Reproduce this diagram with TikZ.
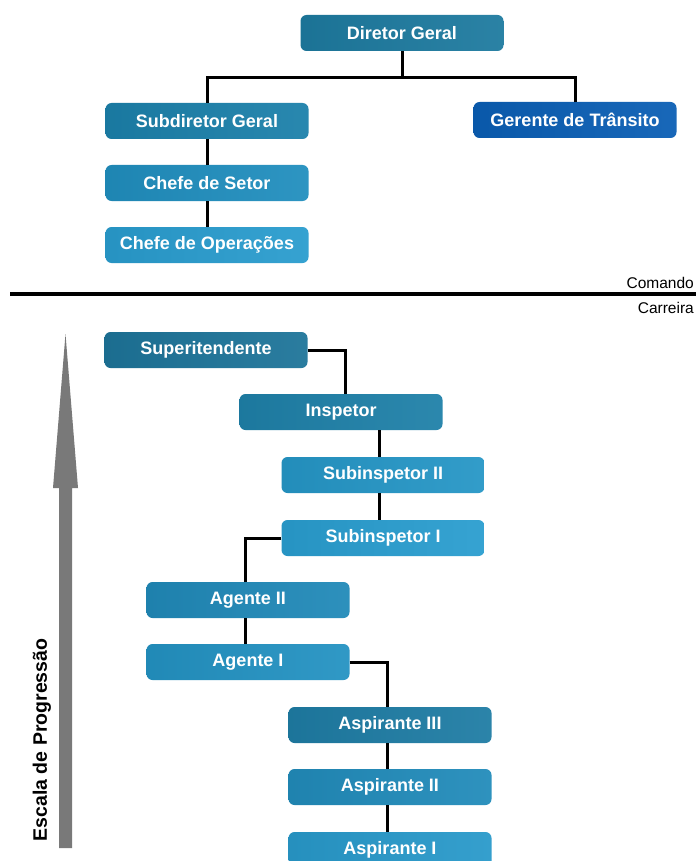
\documentclass[tikz,border=0pt]{standalone}
\usepackage{fontspec}
\setmainfont{Liberation Sans}
\begin{document}
\begin{tikzpicture}[x=1pt,y=-1pt,
  box/.style={rounded corners=6pt, minimum width=203pt, minimum height=36pt,
    inner sep=0pt, text=white, font=\fontsize{18}{20}\selectfont\bfseries},
  c1/.style={left color=#1!94!black, right color=#1!94!white},
  link/.style={line width=3pt, black},
]
\useasboundingbox (0,0) rectangle (696,861);
\fill[white] (0,0) rectangle (696,861);
\definecolor{cA}{HTML}{1D7A9F}
\definecolor{cB}{HTML}{1B80AA}
\definecolor{cC}{HTML}{208EBE}
\definecolor{cD}{HTML}{299CCE}
\definecolor{cG}{HTML}{0A5EB4}
\definecolor{cE}{HTML}{1D7499}
\definecolor{cF}{HTML}{1E80A8}
\definecolor{cH}{HTML}{2596C6}
\definecolor{cI}{HTML}{299DCF}
\definecolor{cJ}{HTML}{2089B8}
\definecolor{cK}{HTML}{2392C2}
\definecolor{cL}{HTML}{1E7CA4}
\definecolor{cM}{HTML}{218BBA}
\definecolor{cN}{HTML}{2899CA}

% command section
\node[box, c1=cA] (dg) at (402,33) {Diretor Geral};
\node[box, c1=cB] (sg) at (207,121) {Subdiretor Geral};
\node[box, c1=cG] (gt) at (575,120) {Gerente de Trânsito};
\node[box, c1=cC] (cs) at (207,183) {Chefe de Setor};
\node[box, c1=cD] (co) at (207,245) {Chefe de Operações};

\coordinate (j) at (402,78);
\draw[link] (dg.south) -- (j);
\draw[link] (sg.north) |- (j) -| (gt.north);
\draw[link] (sg) -- (cs);
\draw[link] (cs) -- (co);

% divider
\coordinate (l1) at (10,294);
\coordinate (l2) at (696,294);
\draw[line width=3.2pt] (l1) -- (l2);
\node[anchor=base east, font=\fontsize{15.5}{17}\selectfont, inner sep=0pt] (cmd) at (694,288) {Comando};
\node[anchor=base east, font=\fontsize{15.5}{17}\selectfont, inner sep=0pt] (car) at (694,313) {Carreira};

% career section
\node[box, c1=cE] (su) at (206,350) {Superitendente};
\node[box, c1=cF] (in) at (341,412) {Inspetor};
\node[box, c1=cH] (s2) at (383,475) {Subinspetor II};
\node[box, c1=cI] (s1) at (383,538) {Subinspetor I};
\node[box, c1=cJ] (a2) at (248,600) {Agente II};
\node[box, c1=cK] (a1) at (248,662) {Agente I};
\node[box, c1=cL] (p3) at (390,725) {Aspirante III};
\node[box, c1=cM] (p2) at (390,787) {Aspirante II};
\node[box, c1=cN] (p1) at (390,850) {Aspirante I};

\draw[link] (su.east) -| ([xshift=4pt]in.north);
\draw[link] ([xshift=38pt]in.south) -- ([xshift=-4pt]s2.north);
\draw[link] ([xshift=-4pt]s2.south) -- ([xshift=-4pt]s1.north);
\draw[link] (s1.west) -| ([xshift=-3pt]a2.north);
\draw[link] ([xshift=-3pt]a2.south) -- ([xshift=-3pt]a1.north);
\draw[link] (a1.east) -| ([xshift=-3pt]p3.north);
\draw[link] ([xshift=-3pt]p3.south) -- ([xshift=-3pt]p2.north);
\draw[link] ([xshift=-3pt]p2.south) -- ([xshift=-3pt]p1.north);

% progression arrow
\fill[gray!95!black] (59,848) -- (59,488) -- (53,488) -- (65.5,334) -- (78,488) -- (72,488) -- (72,848) -- cycle;
\node[rotate=90, font=\fontsize{19.5}{21}\selectfont\bfseries, inner sep=0pt] (esc) at (42,740) {Escala de Progressão};
\end{tikzpicture}
\end{document}
